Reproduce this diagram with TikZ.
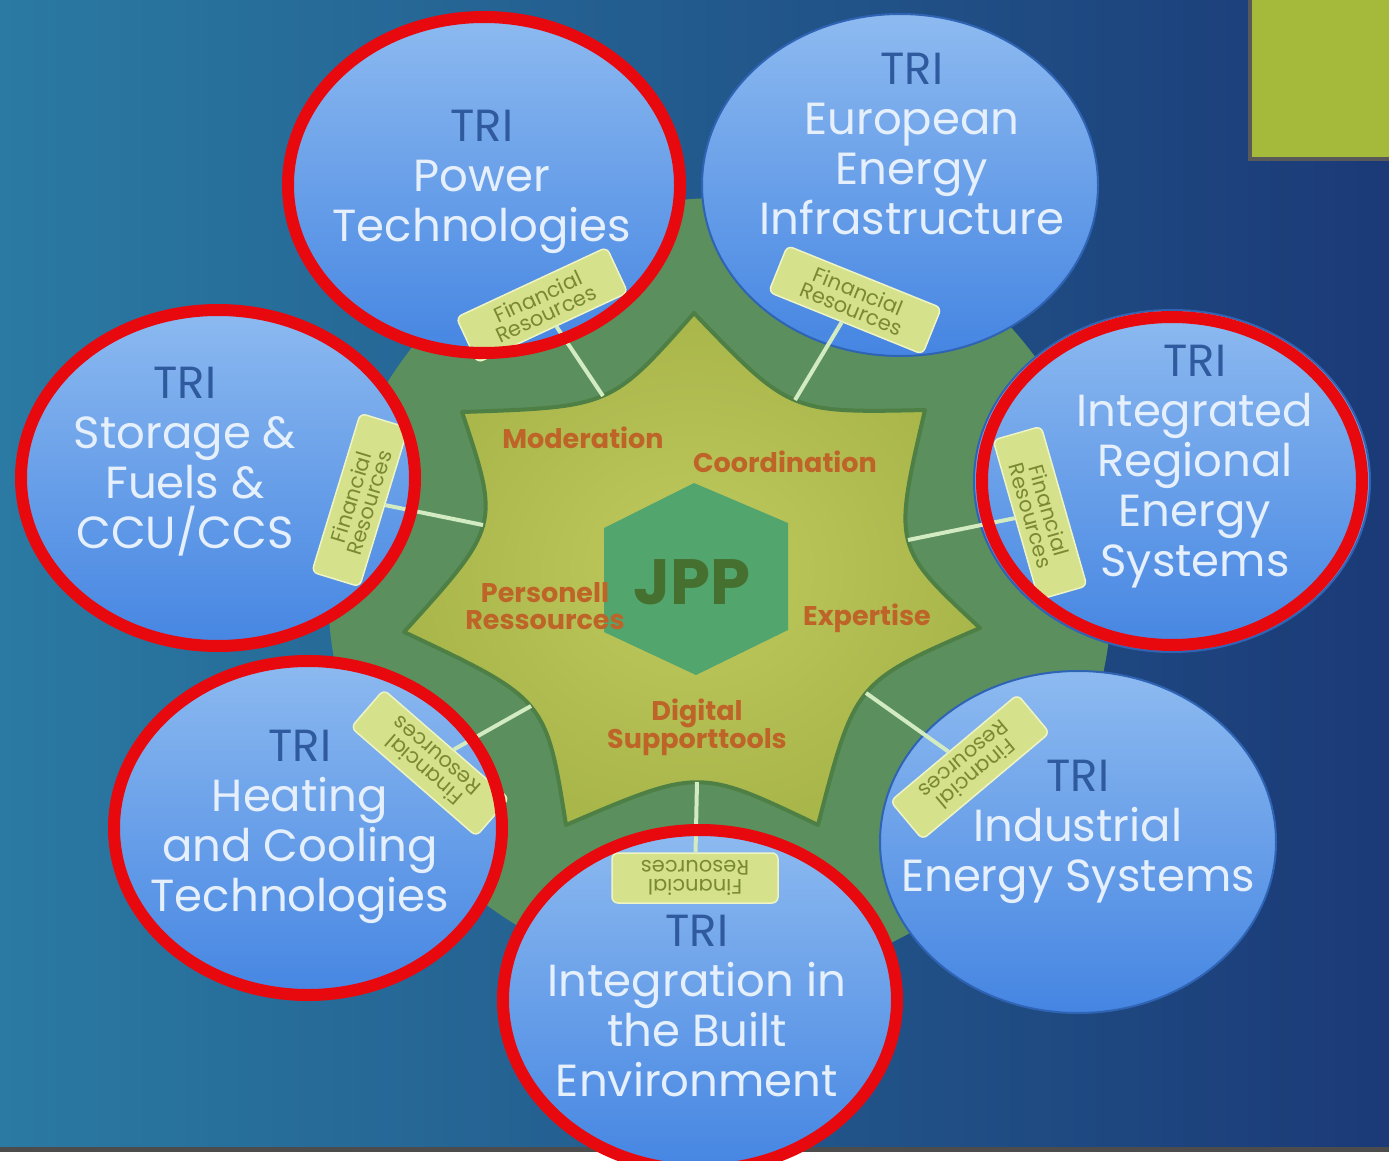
\documentclass[tikz,border=0pt]{standalone}
\usepackage{fontspec}
\setmainfont{Poppins}
\usetikzlibrary{shapes.geometric, positioning}
\definecolor{bgLeft}{HTML}{2A7AA3}
\definecolor{bgRight}{HTML}{1B3A77}
\definecolor{cornerGreen}{HTML}{A5B93A}
\definecolor{ringGreen}{HTML}{5B8F5E}
\definecolor{starIn}{HTML}{BFC95E}
\definecolor{starOut}{HTML}{A9B64A}
\definecolor{starEdge}{HTML}{4E7F45}
\definecolor{hexGreen}{HTML}{52A56C}
\definecolor{jppGreen}{HTML}{45702F}
\definecolor{roleOrange}{HTML}{BE6428}
\definecolor{circTop}{HTML}{8DBAF0}
\definecolor{circBot}{HTML}{4585E2}
\definecolor{circRim}{HTML}{2F64B5}
\definecolor{triBlue}{HTML}{2F5A9E}
\definecolor{triText}{HTML}{E6F0FC}
\definecolor{finFill}{HTML}{D6E18C}
\definecolor{finEdge}{HTML}{EEF4C4}
\definecolor{finText}{HTML}{7A8A32}
\definecolor{linkCol}{HTML}{D3EBC0}
\definecolor{ringRed}{HTML}{E8090F}
\tikzset{
    tri/.style={ellipse, minimum width=396pt, minimum height=342pt, top color=circTop, bottom color=circBot, draw=circRim, line width=2pt}, % the blue TRI discs
    tritext/.style={align=center, text=triText, font=\fontsize{45}{50}\selectfont},
    role/.style={align=center, text=roleOrange, font=\bfseries\fontsize{27}{27}\selectfont},
    finbox/.style={rectangle, rounded corners=6pt, fill=finFill, draw=finEdge, line width=1.5pt, text=finText, align=center, font=\fontsize{21}{19}\selectfont, minimum width=166pt, minimum height=50pt, inner sep=2pt},
    link/.style={draw=linkCol, line width=4pt},
    redring/.style={draw=ringRed, line width=12pt},
}
\newcommand{\tri}{\textcolor{triBlue}{TRI}}

\begin{document}
\begin{tikzpicture}[x=1pt, y=-1pt]
    \useasboundingbox (0,0) rectangle (1389,1161);
    % background
    \fill[white] (0,0) rectangle (1389,1161);
    \shade[left color=bgLeft, right color=bgRight] (0,0) rectangle (1389,1150);
    \fill[black!70] (0,1147) rectangle (1389,1152);
    \fill[black!65] (1248,0) rectangle (1389,161);
    \fill[cornerGreen] (1252,0) rectangle (1389,157);
    % green disc and star
    \fill[ringGreen] (720,590) circle [radius=392];
    \draw[starEdge, line width=4pt, line join=round, inner color=starIn, outer color=starOut]
        (694,313) .. controls (790,413) .. (925,410)
        .. controls (893,547) .. (980,628)
        .. controls (855,682) .. (818,825)
        .. controls (699,768) .. (566,825)
        .. controls (546,699) .. (404,632)
        .. controls (500,526) .. (462,412)
        .. controls (611,407) .. (694,313) -- cycle;
    \coordinate (vE) at (795,400);
    \coordinate (vI) at (908,540);
    \coordinate (vD) at (866,693);
    \coordinate (vB) at (697,782);
    \coordinate (vH) at (531,706);
    \coordinate (vS) at (483,525);
    \coordinate (vP) at (603,396);
    % hexagon
    \fill[hexGreen] (694,483) -- (788,523) -- (788,630) -- (696,675) -- (604,632) -- (604,528) -- cycle;
    \node[text=jppGreen, font=\bfseries\fontsize{64}{64}\selectfont] (jpp) at (692,582) {JPP};
    % roles
    \node[role] (mod) at (583,438) {Moderation};
    \node[role] (coo) at (785,462) {Coordination};
    \node[role] (per) at (545,606) {Personell\\Ressources};
    \node[role] (exp) at (867,618) {Expertise};
    \node[role] (dig) at (697,727) {Digital\\Supporttools};
    % TRI discs
    \node[tri] (triP) at (484,185) {};
    \node[tri] (triE) at (900,185) {};
    \node[tri] (triI) at (1172,481) {};
    \node[tri] (triD) at (1078,842) {};
    \node[tri] (triH) at (308,828) {};
    \node[tri] (triB) at (700,1000) {};
    \node[tri] (triS) at (218,478) {};
    \node[tritext] (txtP) at (482,182) {\tri\\Power\\Technologies};
    \node[tritext] (txtE) at (912,144) {\tri\\European\\Energy\\Infrastructure};
    \node[tritext] (txtI) at (1195,467) {\tri\\Integrated\\Regional\\Energy\\Systems};
    \node[tritext] (txtD) at (1078,832) {\tri\\Industrial\\Energy Systems};
    \node[tritext] (txtH) at (300,827) {\tri\\Heating\\and Cooling\\Technologies};
    \node[tritext] (txtB) at (697,1006) {\tri\\Integration in\\the Built\\Environment};
    \node[tritext] (txtS) at (185,462) {\tri\\Storage \&\\Fuels \&\\CCU/CCS};
    % financial resources
    \node[finbox, rotate=25] (finP) at (542,305) {Financial\\Resources};
    \node[finbox, rotate=-22] (finE) at (855,300) {Financial\\Resources};
    \node[finbox, rotate=73] (finS) at (360,500) {Financial\\Resources};
    \node[finbox, rotate=-74] (finI) at (1040,513) {Financial\\Resources};
    \node[finbox, rotate=139] (finH) at (430,763) {Financial\\Resources};
    \node[finbox, rotate=-140] (finD) at (970,767) {Financial\\Resources};
    \node[finbox, rotate=180] (finB) at (695,878) {Financial\\Resources};
    \draw[link] (finP) -- (vP);
    \draw[link] (finE) -- (vE);
    \draw[link] (finS) -- (vS);
    \draw[link] (finI) -- (vI);
    \draw[link] (finH) -- (vH);
    \draw[link] (finD) -- (vD);
    \draw[link] (finB) -- (vB);
    % red marks
    \draw[redring] (triP.center) ellipse [x radius=196, y radius=168];
    \draw[redring] (triS.center) ellipse [x radius=197, y radius=168];
    \draw[redring] (triI.center) ellipse [x radius=190, y radius=164];
    \draw[redring] (triH.center) ellipse [x radius=194, y radius=167];
    \draw[redring] (triB.center) ellipse [x radius=197, y radius=170];
\end{tikzpicture}
\end{document}
